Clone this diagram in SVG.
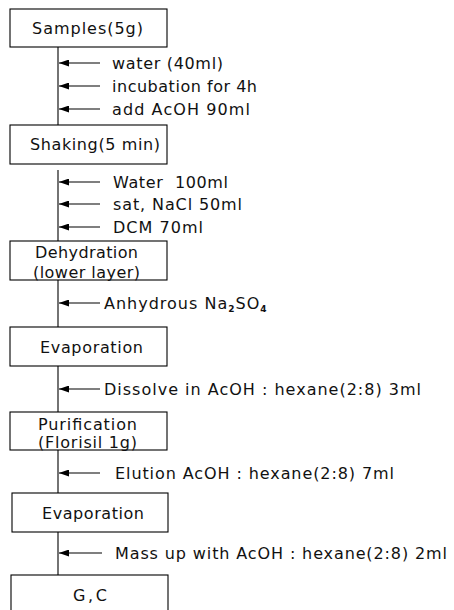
<svg xmlns="http://www.w3.org/2000/svg" width="454" height="610" viewBox="0 0 454 610">
<style>
.box{fill:#fff;stroke:#000;stroke-width:1.1}
.t{font-family:"DejaVu Sans","Liberation Sans",sans-serif;font-size:16px;fill:#111}
.c{stroke:#000;stroke-width:1.1;fill:none}
.a{stroke:#000;stroke-width:1.1;fill:none;marker-end:url(#ah)}
</style>
<defs>
<marker id="ah" viewBox="0 0 10 7" refX="10" refY="3.5" markerWidth="11" markerHeight="7" markerUnits="userSpaceOnUse" orient="auto">
<path d="M0,0 L10,3.5 L0,7 z" fill="#000"/>
</marker>
</defs>
<rect width="454" height="610" fill="#fff"/>
<g id="connectors">
<path class="c" d="M58,47 V125"/>
<path class="c" d="M58,170 V241"/>
<path class="c" d="M58,280 V327"/>
<path class="c" d="M58,366 V412"/>
<path class="c" d="M58,450 V493"/>
<path class="c" d="M58,532 V575"/>
<path class="a" d="M100,63 H59"/>
<path class="a" d="M100,86 H59"/>
<path class="a" d="M100,109 H59"/>
<path class="a" d="M100,182 H59"/>
<path class="a" d="M100,204 H59"/>
<path class="a" d="M100,227 H59"/>
<path class="a" d="M100,303 H59"/>
<path class="a" d="M100,389 H59"/>
<path class="a" d="M100,473 H59"/>
<path class="a" d="M102,553 H59"/>
</g>
<g id="labels">
<text class="t" x="112" y="69" textLength="111" lengthAdjust="spacing">water (40ml)</text>
<text class="t" x="112" y="92" textLength="145" lengthAdjust="spacing">incubation for 4h</text>
<text class="t" x="112" y="115" textLength="138" lengthAdjust="spacing">add AcOH 90ml</text>
<text class="t" x="113" y="188" textLength="115" lengthAdjust="spacing" xml:space="preserve">Water  100ml</text>
<text class="t" x="113" y="210" textLength="129" lengthAdjust="spacing">sat, NaCl 50ml</text>
<text class="t" x="113" y="233" textLength="90" lengthAdjust="spacing">DCM 70ml</text>
<text class="t" x="104" y="309" letter-spacing="1">Anhydrous Na<tspan font-size="9" font-weight="bold" dy="3">2</tspan><tspan dy="-3">SO</tspan><tspan font-size="9" font-weight="bold" dy="3">4</tspan></text>
<text class="t" x="104" y="395" textLength="317" lengthAdjust="spacing">Dissolve in AcOH : hexane(2:8) 3ml</text>
<text class="t" x="115" y="479" textLength="279" lengthAdjust="spacing">Elution AcOH : hexane(2:8) 7ml</text>
<text class="t" x="115" y="559" textLength="332" lengthAdjust="spacing">Mass up with AcOH : hexane(2:8) 2ml</text>
</g>
<g id="n1"><rect class="box" x="10" y="9" width="157" height="38"/><text class="t" x="32" y="34" textLength="111" lengthAdjust="spacing">Samples(5g)</text></g>
<g id="n2"><rect class="box" x="10" y="125" width="157" height="39"/><text class="t" x="30" y="150" textLength="130" lengthAdjust="spacing">Shaking(5 min)</text></g>
<g id="n3"><rect class="box" x="10" y="241" width="157" height="39"/><text class="t" x="35" y="258" textLength="103" lengthAdjust="spacing">Dehydration</text><text class="t" x="33" y="278" textLength="107" lengthAdjust="spacing">(lower layer)</text></g>
<g id="n4"><rect class="box" x="10" y="327" width="157" height="39"/><text class="t" x="40" y="353" textLength="103" lengthAdjust="spacing">Evaporation</text></g>
<g id="n5"><rect class="box" x="10" y="412" width="157" height="38"/><text class="t" x="38" y="430" textLength="99" lengthAdjust="spacing">Purification</text><text class="t" x="38" y="448" textLength="99" lengthAdjust="spacing">(Florisil 1g)</text></g>
<g id="n6"><rect class="box" x="12" y="493" width="156" height="39"/><text class="t" x="42" y="519" textLength="102" lengthAdjust="spacing">Evaporation</text></g>
<g id="n7"><rect class="box" x="11" y="575" width="157" height="40"/><text class="t" x="73" y="601" textLength="34" lengthAdjust="spacing">G,C</text></g>
</svg>
